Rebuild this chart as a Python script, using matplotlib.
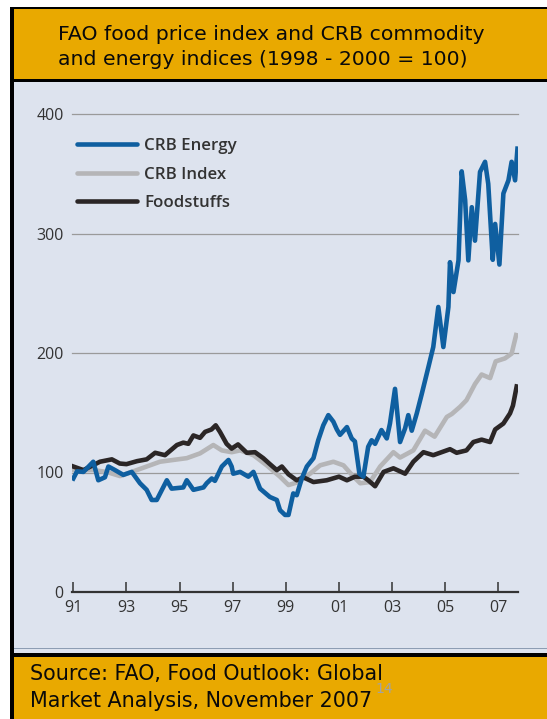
import matplotlib
matplotlib.use("Agg")
import matplotlib.pyplot as plt
from matplotlib.patches import Rectangle
from matplotlib.lines import Line2D

# ── Data (decimal years, index 1998-2000 = 100) ───────────────────────────────
FOOD_YEARS = [1991.00, 1991.38, 1992.00, 1992.45, 1992.75, 1993.00, 1993.40, 1993.76,
              1994.08, 1994.45, 1994.90, 1995.14, 1995.33, 1995.52, 1995.77, 1995.96,
              1996.20, 1996.36, 1996.52, 1996.77, 1996.96, 1997.20, 1997.53, 1997.84,
              1998.15, 1998.40, 1998.66, 1998.85, 1999.10, 1999.41, 1999.66, 2000.04,
              2000.54, 2001.00, 2001.30, 2001.60, 2001.92, 2002.10, 2002.36, 2002.68,
              2003.05, 2003.49, 2003.80, 2004.18, 2004.55, 2005.18, 2005.43, 2005.80,
              2006.06, 2006.37, 2006.69, 2006.88, 2007.19, 2007.44, 2007.55, 2007.69]
FOOD = [105, 102, 109, 111, 107.5, 107, 109.5, 111,
        116.5, 114.5, 123, 125, 124, 131, 129, 134,
        136, 139.5, 134, 124, 120, 123.5, 116.5, 117,
        112, 107, 102, 105, 98.5, 93.5, 96, 92,
        93.5, 96.5, 93.5, 96.5, 96.5, 93.5, 88.5, 100.5,
        103.5, 99, 109, 117, 114.5, 119.5, 116.5, 118.5,
        125.5, 127.5, 125.5, 136, 141, 149.5, 156, 172]

CRB_YEARS = [1991.00, 1991.75, 1992.25, 1992.76, 1993.20, 1993.76, 1994.26, 1994.76,
             1995.27, 1995.77, 1996.27, 1996.59, 1996.96, 1997.28, 1997.78, 1998.28,
             1998.78, 1999.10, 1999.47, 1999.91, 2000.29, 2000.79, 2001.17, 2001.55,
             2001.80, 2002.17, 2002.55, 2003.05, 2003.30, 2003.80, 2004.24, 2004.60,
             2005.06, 2005.25, 2005.56, 2005.80, 2006.12, 2006.37, 2006.69, 2006.90,
             2007.25, 2007.50, 2007.67]
CRB = [102, 102, 100.5, 97, 100.5, 105, 109, 110.5,
       112, 116, 123, 118.5, 117, 118.5, 114.5, 106,
       96.5, 89.5, 92, 99, 106, 109, 106, 96.5,
       91, 92, 105, 117, 112.5, 118.5, 135, 130,
       146.5, 149, 155, 160.5, 174, 182, 179, 193,
       195.5, 199.5, 215]

ENERGY_YEARS = [1991.00, 1991.14, 1991.38, 1991.75, 1991.94, 1992.19, 1992.32, 1992.57,
                1992.88, 1993.20, 1993.51, 1993.76, 1993.95, 1994.14, 1994.52, 1994.70,
                1995.14, 1995.27, 1995.52, 1995.90, 1996.02, 1996.21, 1996.33, 1996.59,
                1996.84, 1996.96, 1997.02, 1997.28, 1997.59, 1997.78, 1998.03, 1998.40,
                1998.66, 1998.78, 1998.97, 1999.10, 1999.28, 1999.41, 1999.60, 1999.79,
                2000.04, 2000.22, 2000.41, 2000.60, 2000.79, 2000.92, 2001.04, 2001.30,
                2001.48, 2001.60, 2001.77, 2001.92, 2002.10, 2002.23, 2002.36, 2002.60,
                2002.80, 2002.92, 2003.11, 2003.30, 2003.49, 2003.61, 2003.74, 2003.93,
                2004.12, 2004.37, 2004.55, 2004.74, 2004.93, 2005.12, 2005.18, 2005.31,
                2005.50, 2005.62, 2005.75, 2005.87, 2006.00, 2006.12, 2006.31, 2006.50,
                2006.62, 2006.79, 2006.88, 2007.04, 2007.19, 2007.38, 2007.50, 2007.63,
                2007.72]
ENERGY = [95, 101, 100.5, 109, 93.5, 96, 105, 102,
          98, 100.5, 91, 85.5, 77, 77, 93.5, 86.5,
          87.5, 93.5, 85.5, 87.5, 91, 95, 93, 105,
          110.5, 105, 99, 100.5, 96.5, 100.5, 86.5, 79.5,
          77, 68.5, 64.5, 64.5, 82.5, 81, 95, 105,
          112, 127, 139.5, 148, 142.5, 136, 131.5, 138,
          128.5, 126, 99, 96.5, 121.5, 127, 124, 135.5,
          128.5, 141, 170, 125.5, 137, 148, 135, 149.5,
          166, 188.5, 205, 238.5, 205, 238.5, 276, 251,
          277.5, 352, 328, 277.5, 322, 294, 351.5, 360,
          341.5, 278, 308, 274, 333.5, 344.5, 360, 344.5,
          371]

X_TICKS = [1991, 1993, 1995, 1997, 1999, 2001, 2003, 2005, 2007]
X_LABELS = ["91", "93", "95", "97", "99", "01", "03", "05", "07"]
Y_TICKS = [0, 100, 200, 300, 400]

TITLE = "FAO food price index and CRB commodity\nand energy indices (1998 - 2000 = 100)"
SOURCE_1 = "Source: FAO, Food Outlook: Global"
SOURCE_2 = "Market Analysis, November 2007"
PAGE_NO = "14"

# ── Style ─────────────────────────────────────────────────────────────────────
W, H = 547, 719
ORANGE = "#e9a900"
PANEL = "#dde3ee"
C_ENERGY = "#0f5fa0"
C_CRB = "#b5b5b7"
C_FOOD = "#2b2626"
TXT = "#333333"
CHART_FONT = "Open Sans"

fig = plt.figure(figsize=(W / 100, H / 100), dpi=100)
fig.patch.set_facecolor("white")


def box(x0, y0, x1, y1, color):
    # pixel box (top-left origin) -> figure fraction
    fig.add_artist(Rectangle((x0 / W, 1 - y1 / H), (x1 - x0) / W, (y1 - y0) / H,
                             transform=fig.transFigure, facecolor=color,
                             edgecolor="none", zorder=-1))


box(10, 7, W, H, "black")
box(14, 9, W, 79, ORANGE)
box(14, 82, W, 653, PANEL)
box(14, 648, W, 649, "#8d9db3")
box(14, 657, W, H, ORANGE)

fig.text(58 / W, 1 - 47 / H, TITLE, ha="left", va="center", fontsize=14.7,
         family="DejaVu Sans", color="#0a0a0a", linespacing=1.36)
fig.text(30 / W, 1 - 674 / H, SOURCE_1, ha="left", va="center", fontsize=14.9,
         family="DejaVu Sans", color="#0a0a0a")
fig.text(30 / W, 1 - 701 / H, SOURCE_2, ha="left", va="center", fontsize=14.9,
         family="DejaVu Sans", color="#0a0a0a")
fig.text(375 / W, 1 - 689 / H, PAGE_NO, ha="left", va="center", fontsize=10,
         family="DejaVu Sans", color="#a3a3a3")

# ── Chart ─────────────────────────────────────────────────────────────────────
ax = fig.add_axes([72 / W, 1 - 592 / H, 446 / W, 478 / H])
ax.set_zorder(2)
ax.patch.set_visible(False)

ax.plot(CRB_YEARS, CRB, color=C_CRB, lw=3.3, solid_joinstyle="round", zorder=3)
ax.plot(FOOD_YEARS, FOOD, color=C_FOOD, lw=3.3, solid_joinstyle="round", zorder=4)
ax.plot(ENERGY_YEARS, ENERGY, color=C_ENERGY, lw=3.3, solid_joinstyle="round", zorder=5)

ax.set_xlim(1990.95, 2007.74)
ax.set_ylim(0, 400)
ax.set_xticks(X_TICKS)
ax.set_xticklabels(X_LABELS)
ax.set_yticks(Y_TICKS)
for t in ax.get_xticklabels() + ax.get_yticklabels():
    t.set_family(CHART_FONT)
    t.set_fontsize(11.5)
    t.set_color(TXT)

for s in ["top", "right", "left"]:
    ax.spines[s].set_visible(False)
ax.spines["bottom"].set_color(TXT)
ax.spines["bottom"].set_linewidth(1.6)
ax.tick_params(axis="x", direction="in", length=7, width=1.1, color=TXT, pad=6)
ax.tick_params(axis="y", length=0, pad=6)
for v in Y_TICKS[1:]:
    ax.axhline(v, color="#9a9a9a", lw=0.9, zorder=1, clip_on=False)

handles = [Line2D([], [], color=C_ENERGY, lw=3.3, solid_capstyle="round"),
           Line2D([], [], color=C_CRB, lw=3.3, solid_capstyle="round"),
           Line2D([], [], color=C_FOOD, lw=3.3, solid_capstyle="round")]
leg = ax.legend(handles, ["CRB Energy", "CRB Index", "Foodstuffs"],
                loc="upper left", bbox_to_anchor=(0.0, 0.96), frameon=False,
                handlelength=3.55, handletextpad=0.41, labelspacing=0.74,
                borderaxespad=0.0, borderpad=0.3,
                prop={"family": CHART_FONT, "size": 12.2, "weight": "semibold"})
for t in leg.get_texts():
    t.set_color(TXT)

fig.savefig("out.png", dpi=100, facecolor="white")
